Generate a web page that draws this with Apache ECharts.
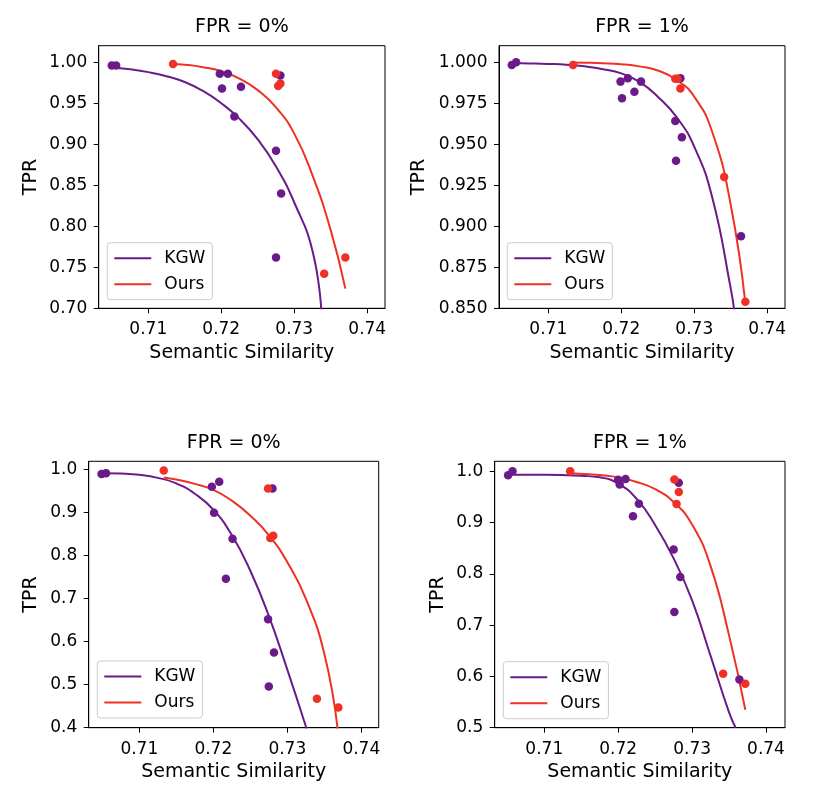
<!DOCTYPE html>
<html>
<head>
<meta charset="utf-8">
<script src="https://cdn.jsdelivr.net/npm/echarts@6/dist/echarts.min.js"></script>
<style>html,body{margin:0;padding:0;background:#fff}#c{width:822px;height:806px}</style>
</head>
<body>
<div id="c"></div>
<script>
// ---------- data ----------
const panelTitles = ['FPR = 0%', 'FPR = 1%', 'FPR = 0%', 'FPR = 1%'];
const seriesNames = ['KGW', 'Ours'];
const xTicks = [0.71, 0.72, 0.73, 0.74];
const yTicks1 = [0.70, 0.75, 0.80, 0.85, 0.90, 0.95, 1.00];
const yTicks2 = [0.850, 0.875, 0.900, 0.925, 0.950, 0.975, 1.000];
const yTicks3 = [0.4, 0.5, 0.6, 0.7, 0.8, 0.9, 1.0];
const yTicks4 = [0.5, 0.6, 0.7, 0.8, 0.9, 1.0];

// Panel 1 (top-left, FPR = 0%)
const p1KgwPts = [[0.7050,0.996],[0.7056,0.996],[0.7198,0.986],[0.7209,0.986],[0.7201,0.968],[0.7227,0.970],[0.7218,0.934],[0.7275,0.892],[0.7281,0.984],[0.7282,0.840],[0.7275,0.762]];
const p1OursPts = [[0.7134,0.998],[0.7275,0.986],[0.7278,0.971],[0.7281,0.974],[0.7341,0.742],[0.7370,0.762]];
const p1KgwCurve = [[0.7048,0.994],[0.7075,0.9915],[0.7100,0.988],[0.7125,0.983],[0.7150,0.976],[0.7175,0.965],[0.7200,0.950],[0.7225,0.931],[0.7250,0.906],[0.7275,0.873],[0.7300,0.829],[0.7325,0.770],[0.7337,0.698]];
const p1OursCurve = [[0.7132,0.998],[0.7150,0.997],[0.7175,0.994],[0.7200,0.989],[0.7225,0.980],[0.7250,0.966],[0.7275,0.945],[0.7300,0.913],[0.7325,0.862],[0.7350,0.795],[0.7370,0.724]];

// Panel 2 (top-right, FPR = 1%)
const p2KgwPts = [[0.7050,0.9984],[0.7056,1.0000],[0.7199,0.9882],[0.7209,0.9902],[0.7227,0.9882],[0.7218,0.982],[0.7201,0.978],[0.7281,0.9902],[0.7274,0.9642],[0.7283,0.9543],[0.7275,0.940],[0.7364,0.894]];
const p2OursPts = [[0.7134,0.9984],[0.7274,0.990],[0.7277,0.990],[0.7281,0.984],[0.7341,0.930],[0.7370,0.854]];
const p2KgwCurve = [[0.7050,0.9995],[0.7075,0.9993],[0.7100,0.9990],[0.7125,0.9985],[0.7150,0.9975],[0.7175,0.9958],[0.7200,0.9932],[0.7225,0.988],[0.7250,0.979],[0.7275,0.967],[0.7300,0.9485],[0.7325,0.917],[0.7350,0.862],[0.7355,0.848]];
const p2OursCurve = [[0.7132,0.9998],[0.7150,0.9997],[0.7175,0.9994],[0.7200,0.9988],[0.7225,0.9975],[0.7250,0.995],[0.7275,0.9895],[0.7300,0.979],[0.7325,0.957],[0.7350,0.913],[0.7370,0.853]];

// Panel 3 (bottom-left, FPR = 0%)
const p3KgwPts = [[0.7049,0.990],[0.7055,0.992],[0.7198,0.9605],[0.7208,0.972],[0.7201,0.900],[0.7226,0.8395],[0.7217,0.7465],[0.7274,0.652],[0.7280,0.956],[0.7282,0.575],[0.7275,0.496]];
const p3OursPts = [[0.7133,0.998],[0.7274,0.956],[0.7277,0.841],[0.7281,0.8465],[0.7340,0.4675],[0.7369,0.447]];
const p3KgwCurve = [[0.7049,0.992],[0.7075,0.991],[0.7100,0.988],[0.7125,0.981],[0.7150,0.968],[0.7175,0.944],[0.7200,0.907],[0.7225,0.848],[0.7250,0.765],[0.7275,0.660],[0.7300,0.535],[0.7326,0.398]];
const p3OursCurve = [[0.7133,0.982],[0.7150,0.977],[0.7175,0.967],[0.7200,0.953],[0.7225,0.928],[0.7250,0.893],[0.7275,0.848],[0.7300,0.785],[0.7325,0.700],[0.7350,0.572],[0.7368,0.398]];

// Panel 4 (bottom-right, FPR = 1%)
const p4KgwPts = [[0.7051,0.992],[0.7057,1.000],[0.7200,0.9834],[0.7210,0.985],[0.7202,0.974],[0.7228,0.9366],[0.7220,0.912],[0.7275,0.8476],[0.7282,0.9776],[0.7284,0.7937],[0.7276,0.7255],[0.7364,0.594]];
const p4OursPts = [[0.7135,1.000],[0.7276,0.984],[0.7282,0.9594],[0.7279,0.936],[0.7342,0.6053],[0.7372,0.5858]];
const p4KgwCurve = [[0.7051,0.993],[0.7100,0.993],[0.7125,0.9925],[0.7150,0.991],[0.7175,0.988],[0.7200,0.976],[0.7225,0.946],[0.7250,0.895],[0.7275,0.830],[0.7300,0.748],[0.7325,0.640],[0.7350,0.530],[0.7359,0.500]];
const p4OursCurve = [[0.7135,0.996],[0.7160,0.994],[0.7185,0.991],[0.7200,0.988],[0.7225,0.979],[0.7250,0.965],[0.7275,0.940],[0.7300,0.896],[0.7325,0.815],[0.7350,0.680],[0.7372,0.535]];

// ---------- layout / style ----------
const KGW_COLOR = '#6a1a89';
const OURS_COLOR = '#ee3124';
const FONT = 'DejaVu Sans';
// legend icon: 37px line, then an 8px empty gap (tiny sliver at x=45 fixes the box width)
const LEGEND_ICON = 'path://M0,0H37V2H0Z M44.98,0H45V2H44.98Z';

const panels = [
  {kgwPts:p1KgwPts, oursPts:p1OursPts, kgwCurve:p1KgwCurve, oursCurve:p1OursCurve, yTicks:yTicks1, dec:2,
   grid:{left:98.7, top:45.7, width:286.3, height:262.6}, xMin:0.70321, xMax:0.74243, yMin:0.70, yMax:1.0202,
   legend:{left:107.3, top:242.7}, titleTop:17.7, yNameGap:58},
  {kgwPts:p2KgwPts, oursPts:p2OursPts, kgwCurve:p2KgwCurve, oursCurve:p2OursCurve, yTicks:yTicks2, dec:3,
   grid:{left:499, top:45.7, width:286, height:262.6}, xMin:0.70325, xMax:0.74243, yMin:0.85, yMax:1.0101,
   legend:{left:507.3, top:242.7}, titleTop:17.7, yNameGap:70},
  {kgwPts:p3KgwPts, oursPts:p3OursPts, kgwCurve:p3KgwCurve, oursCurve:p3OursCurve, yTicks:yTicks3, dec:1,
   grid:{left:88.7, top:461.3, width:290, height:266.4}, xMin:0.70316, xMax:0.74235, yMin:0.40, yMax:1.0195,
   legend:{left:97.3, top:661}, titleTop:433.3, yNameGap:48},
  {kgwPts:p4KgwPts, oursPts:p4OursPts, kgwCurve:p4KgwCurve, oursCurve:p4OursCurve, yTicks:yTicks4, dec:1,
   grid:{left:494.7, top:461.3, width:290.3, height:266.4}, xMin:0.70329, xMax:0.74257, yMin:0.50, yMax:1.0193,
   legend:{left:503.3, top:661.7}, titleTop:433.3, yNameGap:47.5}
];

const option = {
  animation: false,
  backgroundColor: '#fff',
  textStyle: {fontFamily: FONT},
  title: [], grid: [], xAxis: [], yAxis: [], legend: [], series: []
};

panels.forEach((p, i) => {
  option.title.push({
    text: panelTitles[i], left: p.grid.left + p.grid.width / 2, top: p.titleTop, textAlign: 'center', padding: 0,
    textStyle: {fontFamily: FONT, fontSize: 19, fontWeight: 'normal', color: '#000'}
  });
  option.grid.push(Object.assign({show: true, borderColor: '#000', borderWidth: 1, backgroundColor: 'transparent', containLabel: false}, p.grid));
  const axisCommon = {
    axisLine: {show: true, onZero: false, lineStyle: {color: '#000', width: 1}},
    splitLine: {show: false}
  };
  option.xAxis.push(Object.assign({}, axisCommon, {
    type: 'value', gridIndex: i, min: p.xMin, max: p.xMax,
    name: 'Semantic Similarity', nameLocation: 'middle', nameGap: 35,
    nameTextStyle: {fontFamily: FONT, fontSize: 19, color: '#000'},
    axisTick: {show: true, length: 5, customValues: xTicks, lineStyle: {color: '#000', width: 1}},
    axisLabel: {customValues: xTicks, margin: 13, fontFamily: FONT, fontSize: 17, color: '#000', formatter: v => v.toFixed(2)}
  }));
  option.yAxis.push(Object.assign({}, axisCommon, {
    type: 'value', gridIndex: i, min: p.yMin, max: p.yMax,
    name: 'TPR', nameLocation: 'middle', nameGap: p.yNameGap,
    nameTextStyle: {fontFamily: FONT, fontSize: 19, color: '#000'},
    axisTick: {show: true, length: 5, customValues: p.yTicks, lineStyle: {color: '#000', width: 1}},
    axisLabel: {customValues: p.yTicks, margin: 11.5, fontFamily: FONT, fontSize: 17, color: '#000', formatter: v => v.toFixed(p.dec)}
  }));
  option.legend.push({
    data: seriesNames.map(n => ({name: n, icon: LEGEND_ICON})),
    orient: 'vertical', left: p.legend.left, top: p.legend.top,
    itemWidth: 45, itemHeight: 2, itemGap: 8,
    padding: [6.5, 7, 6.5, 7],
    backgroundColor: 'rgba(255,255,255,0.8)', borderColor: '#cccccc', borderWidth: 1, borderRadius: 3,
    selectedMode: false,
    textStyle: {fontFamily: FONT, fontSize: 17, color: '#000', lineHeight: 18}
  });
  const lineCommon = {type: 'line', xAxisIndex: i, yAxisIndex: i, showSymbol: false, symbol: 'none', smooth: 0.5, smoothConstraint: false, clip: true, z: 3};
  option.series.push(Object.assign({}, lineCommon, {name: seriesNames[0], data: p.kgwCurve, itemStyle: {color: KGW_COLOR}, lineStyle: {color: KGW_COLOR, width: 2}}));
  option.series.push(Object.assign({}, lineCommon, {name: seriesNames[1], data: p.oursCurve, itemStyle: {color: OURS_COLOR}, lineStyle: {color: OURS_COLOR, width: 2}}));
  option.series.push({type: 'scatter', name: 'KGW points', xAxisIndex: i, yAxisIndex: i, data: p.kgwPts, symbolSize: 8.5, itemStyle: {color: KGW_COLOR, opacity: 1}, z: 4});
  option.series.push({type: 'scatter', name: 'Ours points', xAxisIndex: i, yAxisIndex: i, data: p.oursPts, symbolSize: 8.5, itemStyle: {color: OURS_COLOR, opacity: 1}, z: 4});
});

const chart = echarts.init(document.getElementById('c'), null, {renderer: 'canvas', width: 822, height: 806});
chart.setOption(option);
</script>
</body>
</html>
